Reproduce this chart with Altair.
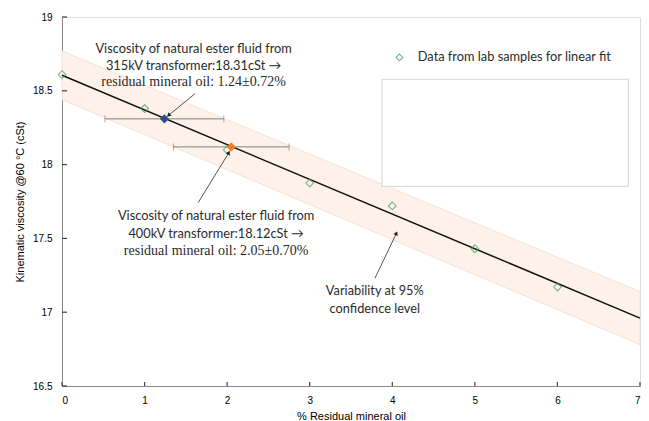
import altair as alt
import pandas as pd

# ---- data ----
lab_x = [0, 1, 2, 3, 4, 5, 6]
lab_y = [18.61, 18.38, 18.10, 17.875, 17.72, 17.43, 17.17]

fit_x = [0, 7]
fit_y = [18.605, 16.96]
band_lo = [18.44, 16.78]
band_hi = [18.77, 17.14]

sample_names = ["315kV", "400kV"]
sample_x = [1.24, 2.05]
sample_y = [18.31, 18.12]
sample_err = [0.72, 0.70]
sample_colors = ["#2f4c8c", "#f07d26"]

legend_label = "Data from lab samples for linear fit"

# annotation texts (x, y in data units)
sans_lines = [
    "Viscosity of natural ester fluid from", "315kV transformer:18.31cSt \u2192",
    "Viscosity of natural ester fluid from", "400kV transformer:18.12cSt \u2192",
    "Variability at 95%", "confidence level",
]
sans_x = [1.594, 1.594, 1.867, 1.867, 3.788, 3.788]
sans_y = [18.786, 18.671, 17.652, 17.533, 17.142, 17.024]
serif_lines = ["residual  mineral  oil: 1.24\u00b10.72%", "residual  mineral  oil: 2.05\u00b10.70%"]
serif_x = [1.594, 1.867]
serif_y = [18.560, 17.415]

# arrows: start -> tip
arrow_x0 = [1.61, 1.65, 3.79]
arrow_y0 = [18.48, 17.743, 17.23]
arrow_x1 = [1.29, 2.02, 4.05]
arrow_y1 = [18.334, 18.08, 17.535]
arrow_angle = [229, 31, 25]

# blank box
box_x = [3.876]
box_x2 = [6.86]
box_y = [18.578]
box_y2 = [17.853]

x_ticks = [0, 1, 2, 3, 4, 5, 6, 7]
y_ticks = [16.5, 17, 17.5, 18, 18.5, 19]

W, H = 578, 369
FONT = "Lato"
TXT = "#2b2b2b"

xs = alt.Scale(domain=[0, 7], nice=False, zero=False)
ys = alt.Scale(domain=[16.5, 19], nice=False, zero=False)

band_df = pd.DataFrame({"x": fit_x, "lo": band_lo, "hi": band_hi, "fit": fit_y})
lab_df = pd.DataFrame({"x": lab_x, "y": lab_y, "series": [legend_label] * len(lab_x)})
s_df = pd.DataFrame({
    "name": sample_names, "x": sample_x, "y": sample_y,
    "lo": [a - b for a, b in zip(sample_x, sample_err)],
    "hi": [a + b for a, b in zip(sample_x, sample_err)],
})
sans_df = pd.DataFrame({"t": sans_lines, "x": sans_x, "y": sans_y})
serif_df = pd.DataFrame({"t": serif_lines, "x": serif_x, "y": serif_y})
arr_df = pd.DataFrame({"x0": arrow_x0, "y0": arrow_y0, "x1": arrow_x1, "y1": arrow_y1, "ang": arrow_angle})
box_df = pd.DataFrame({"x": box_x, "x2": box_x2, "y": box_y, "y2": box_y2})
xt_df = pd.DataFrame({"v": x_ticks})
yt_df = pd.DataFrame({"v": y_ticks})

x_axis = alt.Axis(values=x_ticks, ticks=False, grid=False, labelPadding=9,
                  title="% Residual mineral oil", titlePadding=5, titleFontWeight="normal",
                  labelExpr="'' + datum.value")
y_axis = alt.Axis(values=y_ticks, ticks=False, grid=False, labelPadding=10,
                  title="Kinematic viscosity @60 \u00b0C (cSt)", titlePadding=7, titleFontWeight="normal",
                  labelExpr="'' + datum.value")

band = alt.Chart(band_df).mark_area(color="#fdf1e9", stroke="#f1ddd0", strokeWidth=0.8).encode(
    x=alt.X("x:Q", scale=xs, axis=x_axis),
    y=alt.Y("lo:Q", scale=ys, axis=y_axis),
    y2="hi:Q",
)

fit = alt.Chart(band_df).mark_line(color="#111111", strokeWidth=1.5).encode(
    x=alt.X("x:Q", scale=xs), y=alt.Y("fit:Q", scale=ys)
)

err = alt.Chart(s_df).mark_rule(color="#808080", strokeWidth=1).encode(
    x=alt.X("lo:Q", scale=xs), x2="hi:Q", y=alt.Y("y:Q", scale=ys)
)
cap_lo = alt.Chart(s_df).mark_tick(color="#808080", orient="vertical", size=7, thickness=1).encode(
    x=alt.X("lo:Q", scale=xs), y=alt.Y("y:Q", scale=ys)
)
cap_hi = alt.Chart(s_df).mark_tick(color="#808080", orient="vertical", size=7, thickness=1).encode(
    x=alt.X("hi:Q", scale=xs), y=alt.Y("y:Q", scale=ys)
)

lab = alt.Chart(lab_df).mark_point(shape="diamond", filled=False, size=60, strokeWidth=1.1).encode(
    x=alt.X("x:Q", scale=xs),
    y=alt.Y("y:Q", scale=ys),
    color=alt.Color("series:N", scale=alt.Scale(domain=[legend_label], range=["#3f9c63"]),
                    legend=alt.Legend(orient="none", legendX=331, legendY=34, title=None,
                                      symbolType="diamond", symbolSize=45, symbolStrokeWidth=1.1,
                                      symbolFillColor="white", labelFont=FONT, labelFontSize=12.8,
                                      labelColor=TXT, labelOffset=12, labelLimit=400, padding=0)),
)

samples = alt.Chart(s_df).mark_point(shape="diamond", filled=True, size=85, opacity=1).encode(
    x=alt.X("x:Q", scale=xs), y=alt.Y("y:Q", scale=ys),
    fill=alt.Fill("name:N", scale=alt.Scale(domain=sample_names, range=sample_colors), legend=None),
)

arrows = alt.Chart(arr_df).mark_rule(color="#555555", strokeWidth=1).encode(
    x=alt.X("x0:Q", scale=xs), y=alt.Y("y0:Q", scale=ys), x2="x1:Q", y2="y1:Q"
)
heads = alt.Chart(arr_df).mark_point(shape="triangle-up", filled=True, size=22, color="#222222", opacity=1).encode(
    x=alt.X("x1:Q", scale=xs), y=alt.Y("y1:Q", scale=ys), angle=alt.Angle("ang:Q", scale=None)
)

box = alt.Chart(box_df).mark_rect(fill="white", stroke="#d4d4d4", strokeWidth=1).encode(
    x=alt.X("x:Q", scale=xs), x2="x2:Q", y=alt.Y("y:Q", scale=ys), y2="y2:Q"
)

sans_txt = alt.Chart(sans_df).mark_text(font=FONT, fontSize=12.8, color=TXT, align="center", baseline="middle").encode(
    x=alt.X("x:Q", scale=xs), y=alt.Y("y:Q", scale=ys), text="t:N"
)
serif_txt = alt.Chart(serif_df).mark_text(font="Liberation Serif", fontSize=14, color=TXT, align="center", baseline="middle").encode(
    x=alt.X("x:Q", scale=xs), y=alt.Y("y:Q", scale=ys), text="t:N"
)

xt = alt.Chart(xt_df).mark_rule(color="#404040", strokeWidth=1.2).encode(
    x=alt.X("v:Q", scale=xs), y=alt.value(H), y2=alt.value(H - 4)
)
yt = alt.Chart(yt_df).mark_rule(color="#404040", strokeWidth=1.2).encode(
    y=alt.Y("v:Q", scale=ys), x=alt.value(0), x2=alt.value(5)
)

chart = alt.layer(
    band, fit, err, cap_lo, cap_hi, lab, samples, box, arrows, heads, sans_txt, serif_txt, xt, yt
).properties(
    width=W, height=H,
    autosize=alt.AutoSizeParams(type="none"),
    padding={"left": 54, "top": 9, "right": 1, "bottom": 35},
).configure_view(
    stroke="#404040", strokeWidth=1.2
).configure_axis(
    domainColor="#404040", domainWidth=2,
    labelFont=FONT, labelFontSize=11.5, labelColor="#404040",
    titleFont=FONT, titleFontSize=11.5, titleColor="#404040", titleFontWeight="normal",
).configure(background="white")

chart.save("out.html", embed_options={"renderer": "svg", "actions": False})
